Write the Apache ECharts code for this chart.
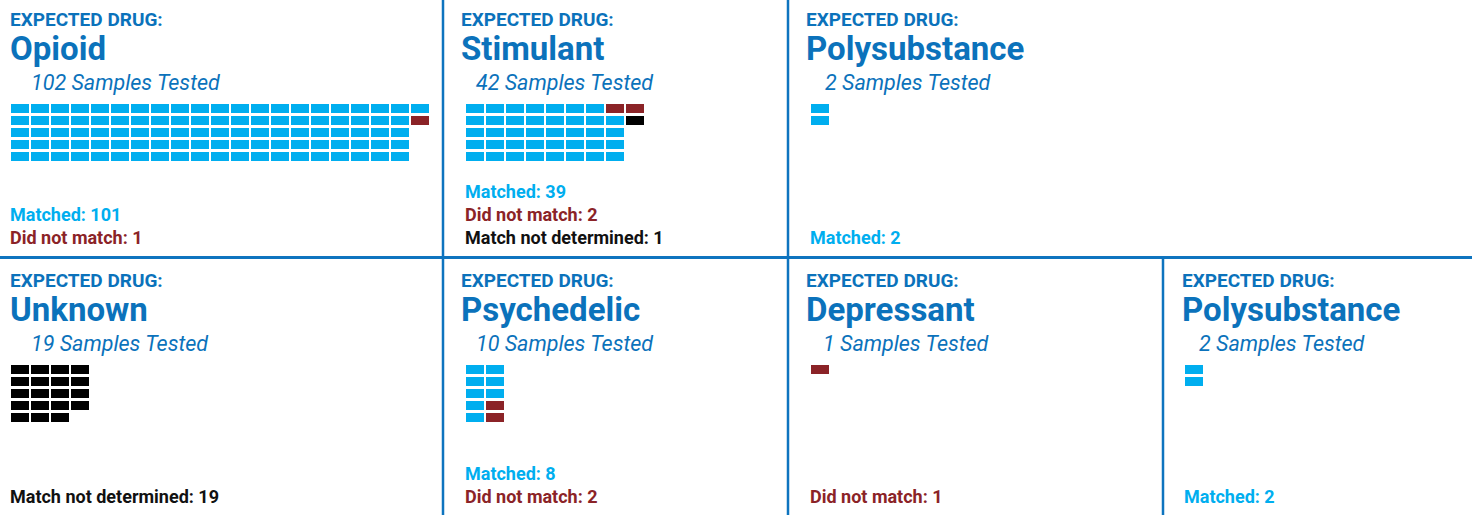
<!DOCTYPE html>
<html>
<head>
<meta charset="utf-8">
<script src="https://cdn.jsdelivr.net/npm/echarts@6/dist/echarts.min.js"></script>
<style>
html,body{margin:0;padding:0;background:#fff;}
#chart{width:1479px;height:515px;}
</style>
</head>
<body>
<div id="chart"></div>
<script>
// ---------------- DATA ----------------
const panelNames = ['Opioid', 'Stimulant', 'Polysubstance', 'Unknown', 'Psychedelic', 'Depressant', 'Polysubstance'];
const samplesTested = [102, 42, 2, 19, 10, 1, 2];
const matched = [101, 39, 2, 0, 8, 0, 2];
const didNotMatch = [1, 2, 0, 0, 2, 1, 0];
const notDetermined = [0, 1, 0, 19, 0, 0, 0];
// order of the cells (column by column, 5 per column): status code and run length
// 0 = matched, 1 = did not match, 2 = match not determined
const cellRuns = [
  [[0, 101], [1, 1]],
  [[0, 35], [1, 1], [0, 4], [1, 1], [2, 1]],
  [[0, 2]],
  [[2, 19]],
  [[0, 8], [1, 2]],
  [[1, 1]],
  [[0, 2]]
];
const headerLabel = 'EXPECTED DRUG:';
const statusLabels = ['Matched', 'Did not match', 'Match not determined'];

// ---------------- LAYOUT / STYLE ----------------
const ROWS = 5;
const colors = ['#00AEEF', '#8B2327', '#000000'];
const textColors = ['#00AEEF', '#8B2327', '#111111'];
const titleBlue = '#0B72BB';
const lineBlue = '#0E74BF';
const FONT = "Roboto, 'Noto Sans', sans-serif";
const panelRow = [0, 0, 0, 1, 1, 1, 1];
const titleX = [10, 461, 806, 10, 461, 806, 1182];
const subX = [31, 476, 825, 31, 476, 823, 1199];
const gridX = [10, 465, 810, 10, 465, 810, 1184];
const rowTop = [0, 261];
const gridTop = [104, 365];
const legendLast = [237, 496];

const grids = [], xAxes = [], yAxes = [], series = [], graphics = [];

panelNames.forEach((name, p) => {
  const r = panelRow[p];
  grids.push({ left: gridX[p], top: gridTop[r], width: 420, height: 60, containLabel: false });
  xAxes.push({ type: 'value', gridIndex: p, min: 0, max: 21, show: false });
  yAxes.push({ type: 'value', gridIndex: p, min: 0, max: ROWS, inverse: true, show: false });
  const cells = [];
  let idx = 0;
  cellRuns[p].forEach(([status, n]) => {
    for (let k = 0; k < n; k++) {
      cells.push([Math.floor(idx / ROWS), idx % ROWS, status]);
      idx++;
    }
  });
  series.push({
    type: 'custom',
    xAxisIndex: p,
    yAxisIndex: p,
    silent: true,
    data: cells,
    encode: { x: 0, y: 1 },
    renderItem: function (params, api) {
      const pt = api.coord([api.value(0), api.value(1)]);
      return {
        type: 'rect',
        shape: { x: pt[0] + 1, y: pt[1], width: 18, height: 9 },
        style: { fill: colors[api.value(2)] }
      };
    }
  });

  const top = rowTop[r];
  graphics.push({
    type: 'text', x: titleX[p], y: top + 19,
    style: { text: headerLabel, fill: titleBlue, font: 'bold 19px ' + FONT, verticalAlign: 'middle' }
  });
  graphics.push({
    type: 'text', x: titleX[p], y: top + 48.5,
    style: { text: name, fill: titleBlue, font: 'bold 33px ' + FONT, verticalAlign: 'middle' }
  });
  graphics.push({
    type: 'text', x: subX[p], y: top + 82,
    style: { text: samplesTested[p] + ' Samples Tested', fill: titleBlue, font: 'italic 21.5px ' + FONT, verticalAlign: 'middle' }
  });

  const counts = [matched[p], didNotMatch[p], notDetermined[p]];
  const lines = [];
  counts.forEach((c, s) => { if (c > 0) lines.push([s, c]); });
  lines.forEach(([s, c], i) => {
    graphics.push({
      type: 'text', x: gridX[p], y: legendLast[r] - (lines.length - 1 - i) * 23,
      style: { text: statusLabels[s] + ': ' + c, fill: textColors[s], font: 'bold 18px ' + FONT, verticalAlign: 'middle' }
    });
  });
});

// panel dividers
graphics.push({ type: 'line', shape: { x1: 0, y1: 257.5, x2: 1472, y2: 257.5 }, style: { stroke: lineBlue, lineWidth: 3 } });
graphics.push({ type: 'line', shape: { x1: 443, y1: 0, x2: 443, y2: 515 }, style: { stroke: lineBlue, lineWidth: 2.5 } });
graphics.push({ type: 'line', shape: { x1: 788, y1: 0, x2: 788, y2: 515 }, style: { stroke: lineBlue, lineWidth: 2.5 } });
graphics.push({ type: 'line', shape: { x1: 1163, y1: 257.5, x2: 1163, y2: 515 }, style: { stroke: lineBlue, lineWidth: 2.5 } });

const chart = echarts.init(document.getElementById('chart'), null, { renderer: 'svg' });
chart.setOption({
  animation: false,
  backgroundColor: '#fff',
  grid: grids,
  xAxis: xAxes,
  yAxis: yAxes,
  series: series,
  graphic: graphics
});
</script>
</body>
</html>
